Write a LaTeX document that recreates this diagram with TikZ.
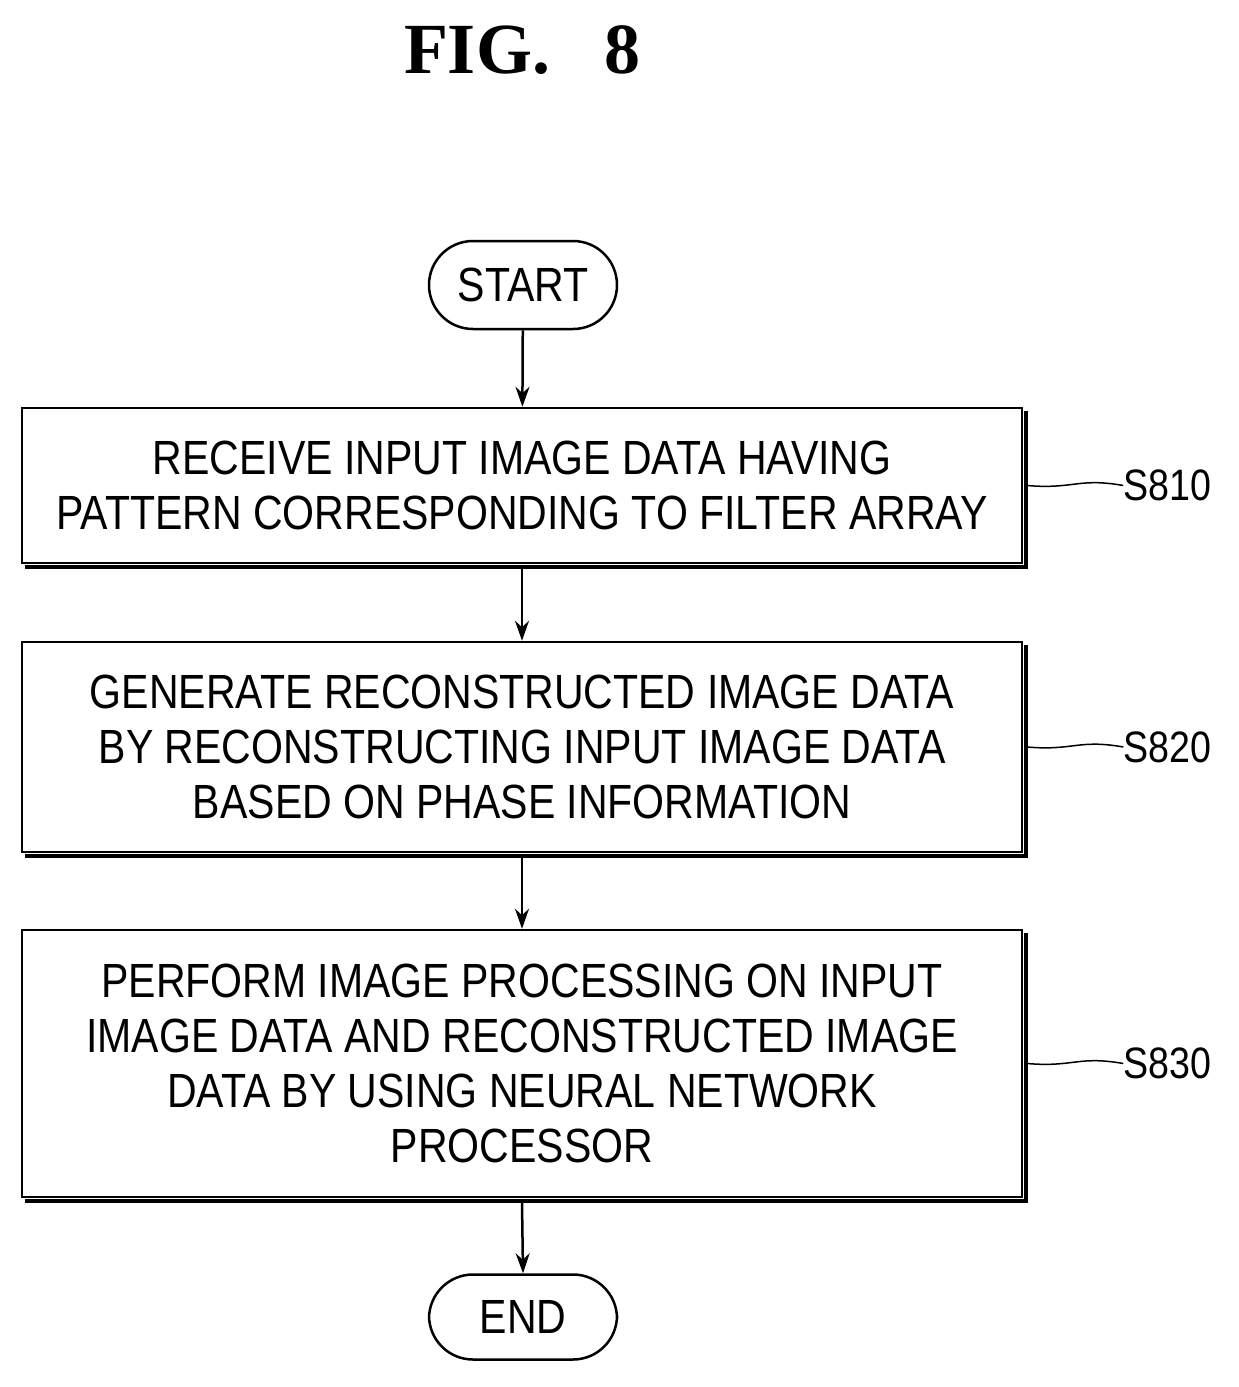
\documentclass[tikz,border=0pt]{standalone}
\usepackage{fontspec}
\setmainfont{Liberation Serif}
\newfontfamily\nar[FakeStretch=0.855]{Liberation Sans}
\usetikzlibrary{arrows.meta}
\begin{document}
\begin{tikzpicture}[x=1pt,y=-1pt,
  txt/.style={font=\nar\fontsize{48}{55}\selectfont,align=center},
  pill/.style={draw,line width=2.5pt,rounded corners=44pt,minimum width=188pt,minimum height=88pt,txt},
  box/.style={draw,line width=2.5pt,minimum width=1000pt,txt,inner sep=0pt},
  arr/.style={line width=2.5pt,-{Stealth[length=20pt,width=14pt]}},
  lab/.style={font=\nar\fontsize{44}{50}\selectfont,anchor=west,inner sep=0pt}]
\useasboundingbox (0,0) rectangle (1239,1387);
\node[font=\bfseries\fontsize{72}{74}\selectfont] (title) at (522,50) {FIG.\ \ \ 8};
\node[pill] (start) at (523,285) {START};
\node[box,minimum height=155pt] (b1) at (522,485.5) {RECEIVE INPUT IMAGE DATA HAVING\\PATTERN CORRESPONDING TO FILTER ARRAY};
\node[box,minimum height=210pt] (b2) at (522,747) {GENERATE RECONSTRUCTED IMAGE DATA\\BY RECONSTRUCTING INPUT IMAGE DATA\\BASED ON PHASE INFORMATION};
\node[box,minimum height=267pt] (b3) at (522,1063.5) {PERFORM IMAGE PROCESSING ON INPUT\\IMAGE DATA AND RECONSTRUCTED IMAGE\\DATA BY USING NEURAL NETWORK\\PROCESSOR};
\node[pill,minimum height=85pt] (end) at (523,1317) {END};
\foreach \b in {b1,b2,b3}{
  \draw[line width=4.5pt] ([xshift=2.5pt,yshift=-4pt]\b.north east) -- ([xshift=2.5pt,yshift=-2.5pt]\b.south east) -- ([xshift=4pt,yshift=-2.5pt]\b.south west);}
\draw[arr] (start) -- (b1);
\draw[arr] (b1.south) ++(0,4) -- (b2.north);
\draw[arr] (b2.south) ++(0,4) -- (b3.north);
\draw[arr] (b3.south) ++(0,4) -- (end.north);
\foreach \b/\t in {b1/S810,b2/S820,b3/S830}{
  \node[lab] (l\b) at ([xshift=100pt]\b.east) {\t};
  \draw[line width=1.5pt] ([xshift=4pt]\b.east) .. controls ([xshift=50pt,yshift=-4pt]\b.east) and ([xshift=55pt,yshift=8pt]\b.east) .. (l\b.west);}
\end{tikzpicture}
\end{document}
